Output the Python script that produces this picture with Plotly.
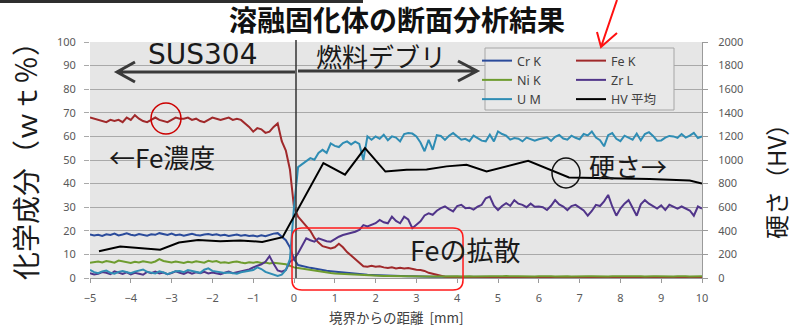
import numpy as np
import plotly.graph_objects as go

# Line-scan positions, mm from the SUS304 / fuel-debris boundary (0.1 mm pitch)
DIST_MM = np.round(np.arange(-50, 101) * 0.1, 1)

# EDS line-scan concentrations (wt%), one value per scan position
CR_K = [
    18.5, 18, 18.3, 17.8, 18.5, 18.2, 18.8, 18, 18.4, 18.9,
    18.3, 18, 18.6, 18.2, 17.9, 18.5, 18.3, 19, 18.6, 18.2,
    18.8, 18.1, 18.4, 17.9, 18.3, 18.7, 18.2, 18, 18.4, 18.6,
    18.2, 18.5, 18, 18.3, 17.8, 18.1, 18.4, 17.9, 18.2, 17.8,
    18, 17.6, 18.1, 17.7, 18.3, 18.8, 19, 17.5, 16, 13,
    8, 5.5, 5, 4.6, 4.3, 4, 3.6, 3.3, 3.1, 2.9,
    2.7, 2.5, 2.3, 2.2, 2, 1.9, 1.7, 1.5, 1.4, 1.3,
    1.2, 1.1, 1, 1, 0.9, 0.8, 0.8, 0.7, 0.7, 0.7,
    0.6, 0.6, 0.6, 0.5, 0.5, 0.5, 0.5, 0.4, 0.4, 0.4,
    0.4, 0.4, 0.3, 0.4, 0.3, 0.3, 0.4, 0.3, 0.3, 0.3,
    0.3, 0.4, 0.3, 0.3, 0.4, 0.3, 0.3, 0.3, 0.4, 0.3,
    0.3, 0.3, 0.4, 0.3, 0.3, 0.4, 0.3, 0.3, 0.3, 0.4,
    0.3, 0.4, 0.3, 0.3, 0.3, 0.4, 0.3, 0.3, 0.4, 0.3,
    0.3, 0.3, 0.4, 0.3, 0.3, 0.3, 0.4, 0.3, 0.3, 0.4,
    0.3, 0.3, 0.3, 0.4, 0.3, 0.3, 0.4, 0.3, 0.3, 0.3,
    0.3,
]
FE_K = [
    68, 67.5, 67, 66.5, 66, 67, 66.5, 67, 66, 68,
    67, 69, 67.5, 66.5, 66, 67, 68, 67, 66.5, 66,
    67, 68, 67.5, 67.5, 68, 67, 67.5, 66.5, 66, 67,
    68, 67.5, 67, 67.5, 68, 67, 67.5, 67, 65.5, 64,
    62, 63.5, 63, 61.5, 62, 64, 65.5, 58, 54, 46,
    30, 26, 24, 22, 20, 17, 15, 13.5, 13, 12.5,
    13, 14.5, 13, 11, 9.5, 8, 6.5, 5, 4.8, 5.2,
    4.8, 5, 4.5, 4.2, 4.5, 4, 4.3, 4, 4.2, 3.8,
    3.5, 3.4, 3, 2.2, 1.8, 1.2, 0.9, 0.5, 0.4, 0.4,
    0.3, 0.4, 0.3, 0.5, 0.3, 0.4, 0.3, 0.3, 0.4, 0.3,
    0.4, 0.3, 0.3, 0.4, 0.5, 0.3, 0.3, 0.4, 0.3, 0.3,
    0.3, 0.4, 0.3, 0.3, 0.5, 0.4, 0.3, 0.3, 0.4, 0.3,
    0.3, 0.3, 0.4, 0.3, 0.3, 0.4, 0.5, 0.3, 0.3, 0.4,
    0.3, 0.4, 0.3, 0.3, 0.4, 0.3, 0.3, 0.5, 0.3, 0.4,
    0.3, 0.3, 0.4, 0.3, 0.4, 0.3, 0.3, 0.4, 0.3, 0.3,
    0.3,
]
NI_K = [
    6.5, 6.8, 7, 6.6, 7.2, 6.9, 6.5, 7.4, 7, 6.7,
    6.4, 6.9, 6.6, 7.1, 6.8, 6.5, 7, 8, 7.2, 6.8,
    6.6, 7, 6.7, 6.4, 6.9, 6.6, 7.1, 6.8, 6.5, 7.3,
    6.9, 7.2, 6.5, 6.7, 6.4, 6.8, 7, 6.6, 6.3, 6.7,
    6.5, 6.8, 6.4, 6.6, 6.2, 6.5, 6.3, 6, 5.8, 5.2,
    4.5, 4.2, 3.9, 3.6, 3.3, 3, 2.8, 2.5, 2.3, 2.1,
    1.9, 1.8, 1.6, 1.5, 1.4, 1.3, 1.2, 1.1, 1.05, 1,
    0.95, 0.9, 0.9, 0.85, 0.8, 0.8, 0.8, 0.75, 0.75, 0.7,
    0.7, 0.7, 0.7, 0.65, 0.65, 0.7, 0.6, 0.65, 0.6, 0.6,
    0.7, 0.6, 0.8, 0.7, 0.6, 0.7, 0.8, 0.6, 0.7, 0.7,
    0.6, 0.7, 0.8, 0.6, 0.7, 0.7, 0.6, 0.8, 0.7, 0.6,
    0.7, 0.8, 0.6, 0.7, 0.6, 0.7, 0.8, 0.7, 0.6, 0.7,
    0.8, 0.6, 0.7, 0.7, 0.6, 0.8, 0.7, 0.6, 0.7, 0.8,
    0.6, 0.7, 0.7, 0.8, 0.6, 0.7, 0.6, 0.8, 0.7, 0.7,
    0.6, 0.8, 0.7, 0.6, 0.7, 0.8, 0.7, 0.6, 0.7, 0.8,
    0.7,
]
ZR_L = [
    2, 1.5, 1.8, 2.5, 2.2, 1.6, 2.8, 2.1, 1.7, 2.4,
    1.5, 2.2, 1.8, 1.4, 2.6, 2, 2.7, 1.9, 2.3, 1.6,
    2.1, 2.8, 2.2, 1.7, 2.5, 1.8, 2.4, 2, 2.6, 1.9,
    2.3, 1.8, 1.6, 2.2, 2.7, 2, 2.4, 2.9, 3, 3.6,
    4.5, 5.1, 5.8, 6.9, 9.3, 6, 3.2, 2.7, 3.4, 6.9,
    8, 10.5, 13.5, 16.8, 16, 15.4, 16.8, 16.2, 15.6, 15.4,
    16.5, 17.5, 18.2, 18.6, 19, 19.6, 20.4, 22.4, 21.8, 22.6,
    23.2, 24.6, 23.6, 23.2, 26, 24.2, 23.2, 26, 24.8, 21.1,
    22.6, 24, 26.5, 27.4, 26.8, 28.5, 29.6, 30.3, 29.2, 28.2,
    30.5, 31, 29.6, 29.8, 29, 30.2, 31, 33.8, 34.5, 30.6,
    28.8, 30.5, 31.7, 30.6, 33, 31.5, 31, 30, 31.5, 30.2,
    30.3, 30, 28.8, 30.6, 33, 31.2, 30.3, 28.8, 30.5, 31,
    29.8, 28.6, 26.4, 28.4, 31, 30.5, 32.5, 35.2, 30.3, 26.4,
    29.4, 31.5, 33, 29.6, 26.4, 31.2, 33, 31.5, 30.3, 29.4,
    30.8, 28.8, 31, 30.2, 29.4, 30.3, 29.5, 28.6, 26.4, 30.3,
    29.4,
]
U_M = [
    3.4, 2.5, 2, 2.8, 3.2, 2.2, 1.8, 2.6, 3, 2.4,
    2, 2.7, 3.1, 3.6, 2.6, 2.2, 1.9, 2.8, 2.4, 1.6,
    2.2, 2.9, 3, 2.5, 3.4, 3, 2.6, 2.2, 3.5, 4.1,
    3, 2.6, 2.4, 2.1, 2.3, 2, 1.8, 2.4, 2.7, 2.9,
    3.4, 4.5, 3.8, 2.6, 2, 1.3, 0.9, 1.4, 3.4, 8,
    30, 47, 48.3, 49.4, 50.8, 50.1, 53, 54.3, 53, 57,
    56, 55.5, 57.2, 57.9, 56.6, 57.8, 56.8, 50, 60, 58.6,
    60, 59, 60.7, 58.4, 60, 59.5, 57.9, 61, 61.4, 61.2,
    60, 57.4, 53.7, 58.5, 54.3, 60.5, 60.2, 58.5, 60.3, 61.4,
    60, 58.6, 59, 58, 60.3, 59.2, 58.2, 57.9, 60.7, 57.9,
    62.1, 61, 60.3, 58.6, 59.3, 59, 57.9, 59.5, 59, 58.2,
    58.8, 59.2, 59.6, 58.1, 59.8, 60.6, 59.1, 58.6, 60.3, 59.4,
    58.8, 61, 60.4, 62.1, 59.5, 58.4, 55.8, 60.5, 61.4, 59,
    58, 60.3, 59.5, 58.6, 61.2, 58.3, 61, 61.8, 60.2, 58.2,
    58.3, 59.5, 60.2, 60, 59.4, 61, 59.5, 60.3, 61.5, 59.3,
    60,
]

# Vickers hardness indentations (averaged), right axis
HV_MM = [-4.78, -4.26, -3.28, -2.82, -2.35, -1.81, -1.32, -0.78, -0.28,
         0.72, 1.25, 1.74, 2.24, 2.76, 3.25, 3.74, 4.23, 4.72, 5.74, 6.74,
         8.72, 9.7, 10.0]
HV_AVG = [226, 266, 240, 300, 322, 312, 318, 306, 346,
          974, 876, 1100, 902, 918, 920, 946, 960, 902, 994, 852,
          840, 826, 800]

X_TICKS = list(range(-5, 11))
WT_TICKS = list(range(0, 101, 10))
HV_TICKS = list(range(0, 2001, 200))

for s in (CR_K, FE_K, NI_K, ZR_L, U_M):
    assert len(s) == len(DIST_MM)

# Page geometry (pixels) and helpers that turn page pixels into paper coords
FIG_W, FIG_H = 794, 328
PL, PR, PT, PB = 90, 702, 42, 278


def pxx(x):
    return (x - PL) / (PR - PL)


def pxy(y):
    return (PB - y) / (PB - PT)


def pt(x, y):
    return f"{pxx(x):.4f},{pxy(y):.4f}"


JP = "Noto Sans CJK JP"
LAT = "Noto Sans, Noto Sans CJK JP"
TICK_FONT = dict(family="Noto Sans", size=11, color="#595959")

fig = go.Figure()

wt_series = [
    ("Cr K", CR_K, "#2a4b9b", "legend"),
    ("Fe K", FE_K, "#a0292b", "legend2"),
    ("Ni K", NI_K, "#6e9c2f", "legend"),
    ("Zr L", ZR_L, "#51358a", "legend2"),
    ("U M", U_M, "#2f8db4", "legend"),
]
for name, vals, color, lg in wt_series:
    fig.add_trace(go.Scatter(
        x=DIST_MM, y=vals, name=name, mode="lines",
        line=dict(color=color, width=2), legend=lg,
    ))

fig.add_trace(go.Scatter(
    x=HV_MM, y=HV_AVG, name="HV 平均", mode="lines", yaxis="y2",
    line=dict(color="#000000", width=2), legend="legend2",
))

legend_common = dict(
    xanchor="left", yanchor="top", bgcolor="rgba(0,0,0,0)", borderwidth=0,
    font=dict(family=LAT, size=12.5, color="#404040"), itemwidth=30,
    tracegroupgap=0,
)

shapes = []
# dark strip along the top-left edge
shapes.append(dict(type="rect", xref="paper", yref="paper",
                   x0=pxx(0), x1=pxx(363), y0=pxy(0), y1=pxy(3),
                   fillcolor="#2e2e2e", line=dict(width=0)))
# legend frame
shapes.append(dict(type="rect", xref="paper", yref="paper",
                   x0=pxx(485), x1=pxx(674), y0=pxy(48), y1=pxy(110),
                   fillcolor="#e8e8e8", line=dict(color="#a6a6a6", width=1)))
# boundary between SUS304 and debris
shapes.append(dict(type="line", xref="paper", yref="paper",
                   x0=pxx(296), x1=pxx(296), y0=pxy(40), y1=pxy(278),
                   line=dict(color="#333333", width=1.5)))
# region arrows
shapes.append(dict(type="path", xref="paper", yref="paper",
                   path=f"M{pt(295, 72)} L{pt(117, 72)} M{pt(135, 62)} L{pt(117, 72)} L{pt(135, 82)}",
                   line=dict(color="#3a3a3a", width=3)))
shapes.append(dict(type="path", xref="paper", yref="paper",
                   path=f"M{pt(298, 71)} L{pt(477, 71)} M{pt(458, 61)} L{pt(477, 71)} L{pt(458, 81)}",
                   line=dict(color="#3a3a3a", width=3)))
# red pointer onto the legend
shapes.append(dict(type="path", xref="paper", yref="paper",
                   path=f"M{pt(617, 0)} L{pt(601, 47)} M{pt(597, 32)} L{pt(601, 47)} L{pt(617, 33)}",
                   line=dict(color="#ff1010", width=2)))
# circles
shapes.append(dict(type="circle", xref="paper", yref="paper",
                   x0=pxx(151), x1=pxx(181), y0=pxy(103), y1=pxy(134),
                   line=dict(color="#cc0000", width=1.5)))
shapes.append(dict(type="circle", xref="paper", yref="paper",
                   x0=pxx(552), x1=pxx(580), y0=pxy(158), y1=pxy(188),
                   line=dict(color="#111111", width=1.5)))
# rounded frame around the Fe diffusion zone
x0, x1, y0, y1, r = 292, 463, 228, 290, 10
shapes.append(dict(
    type="path", xref="paper", yref="paper",
    path=(f"M{pt(x0 + r, y0)} L{pt(x1 - r, y0)} Q{pt(x1, y0)} {pt(x1, y0 + r)} "
          f"L{pt(x1, y1 - r)} Q{pt(x1, y1)} {pt(x1 - r, y1)} "
          f"L{pt(x0 + r, y1)} Q{pt(x0, y1)} {pt(x0, y1 - r)} "
          f"L{pt(x0, y0 + r)} Q{pt(x0, y0)} {pt(x0 + r, y0)} Z"),
    line=dict(color="#ff1a1a", width=1.5)))


def note(text, x, y, size, family=JP, color="#1a1a1a", angle=0):
    return dict(text=text, x=pxx(x), y=pxy(y), xref="paper", yref="paper",
                xanchor="center", yanchor="middle", showarrow=False,
                textangle=angle, borderpad=0,
                font=dict(family=family, size=size, color=color))


annotations = [
    note("SUS304", 202, 55, 28, family="DejaVu Sans"),
    note("燃料デブリ", 381, 56, 26),
    note("←Fe濃度", 162, 156, 26),
    note("硬さ→", 628, 165, 26),
    note("Feの拡散", 465, 249, 27),
    note("化学成分（ｗｔ％）", 25, 154, 28, angle=-90),
    note("硬さ（HV）", 775, 176, 24, angle=-90),
    note("境界からの距離  [mm]", 396, 317, 13.5, color="#404040"),
]

fig.update_layout(
    width=FIG_W, height=FIG_H,
    margin=dict(l=PL, r=FIG_W - PR, t=PT, b=FIG_H - PB, pad=0),
    paper_bgcolor="#ffffff", plot_bgcolor="#e6e6e6",
    title=dict(text="溶融固化体の断面分析結果", x=0.5, xanchor="center",
               y=1 - 21 / FIG_H, yanchor="middle", yref="container",
               font=dict(family=JP, size=28, color="#111111", weight="bold")),
    xaxis=dict(range=[-5, 10], tickvals=X_TICKS, showgrid=False, zeroline=False,
               showline=True, linecolor="#9a9a9a", ticks="outside", ticklen=4,
               tickcolor="#9a9a9a", tickfont=TICK_FONT, ticklabelstandoff=6),
    yaxis=dict(range=[0, 100], tickvals=WT_TICKS, showgrid=True, gridcolor="#a9a9a9",
               gridwidth=1, zeroline=False, showline=False, ticks="outside",
               ticklen=5, tickcolor="#a9a9a9", tickfont=TICK_FONT, ticklabelstandoff=6),
    yaxis2=dict(range=[0, 2000], tickvals=HV_TICKS, overlaying="y", side="right",
                showgrid=False, zeroline=False, showline=True, linecolor="#9a9a9a",
                ticks="outside", ticklen=5, tickcolor="#9a9a9a", tickfont=TICK_FONT,
                ticklabelstandoff=8),
    legend=dict(x=pxx(477), y=pxy(46), **legend_common),
    legend2=dict(x=pxx(571), y=pxy(46), **legend_common),
    shapes=shapes,
    annotations=annotations,
)

fig.write_html("out.html")
